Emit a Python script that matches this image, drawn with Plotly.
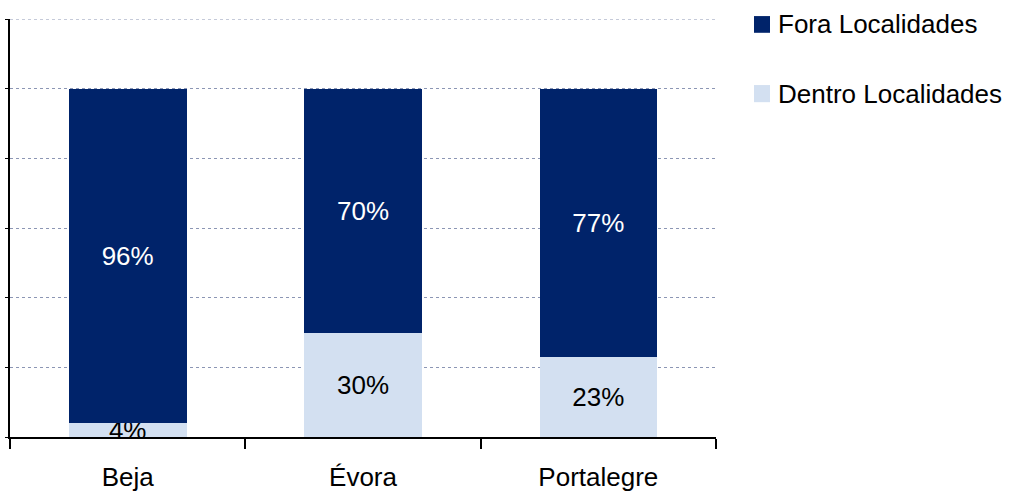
import plotly.graph_objects as go

# Share of road accidents by district, inside vs outside localities
districts = ["Beja", "Évora", "Portalegre"]
dentro = [0.04, 0.30, 0.23]
fora = [0.96, 0.70, 0.77]
series_names = ["Dentro Localidades", "Fora Localidades"]

DARK = "#00236A"
LIGHT = "#D3E0F1"
GRID = "#8C96B4"
FONT = "Liberation Sans, Arial, sans-serif"
FS = 26

fig = go.Figure()
fig.add_trace(go.Bar(
    x=districts, y=dentro, name=series_names[0],
    marker=dict(color=LIGHT, line=dict(width=0)),
    text=[f"{v:.0%}" for v in dentro], textposition="inside",
    insidetextanchor="middle", constraintext="none",
    textfont=dict(color="black", size=FS, family=FONT),
    showlegend=False,
))
fig.add_trace(go.Bar(
    x=districts, y=fora, name=series_names[1],
    marker=dict(color=DARK, line=dict(width=0)),
    text=[f"{v:.0%}" for v in fora], textposition="inside",
    insidetextanchor="middle", constraintext="none",
    textfont=dict(color="white", size=FS, family=FONT),
    showlegend=False,
))

# Top gridline at the upper end of the value axis
fig.add_shape(type="line", xref="x domain", yref="y", x0=0, x1=1, y0=1.2, y1=1.2,
              line=dict(color=GRID, width=1, dash="dot"))

# Hand-built legend to the right of the plot area
legend_items = [(series_names[1], DARK, 1.007, 0.967), (series_names[0], LIGHT, 0.842, 0.801)]
for name, color, y1, y0 in legend_items:
    fig.add_shape(type="rect", xref="paper", yref="paper",
                  x0=1.0538, x1=1.0765, y0=y0, y1=y1,
                  fillcolor=color, line=dict(width=0))
    fig.add_annotation(xref="paper", yref="paper", x=1.085, y=(y0 + y1) / 2,
                       text=name, showarrow=False, xanchor="left", yanchor="middle",
                       font=dict(size=FS, family=FONT, color="black"))

fig.update_layout(
    barmode="stack",
    bargap=0.5,
    width=1013, height=495,
    margin=dict(l=10, r=297, t=19, b=58, autoexpand=False),
    paper_bgcolor="white", plot_bgcolor="white",
    font=dict(family=FONT, size=FS, color="black"),
    uniformtext=dict(minsize=FS, mode="show"),
)
fig.update_xaxes(
    range=[-0.5, 2.5], showline=True, linecolor="black", linewidth=2,
    ticks="outside", tickson="boundaries", ticklen=10, tickwidth=2, tickcolor="black",
    ticklabelstandoff=16, automargin=False,
    showgrid=False, tickfont=dict(size=FS, family=FONT, color="black"),
)
fig.update_yaxes(
    range=[0, 1.2], dtick=0.2, showline=True, linecolor="black", linewidth=2,
    ticks="outside", ticklen=3, tickwidth=1, tickcolor="black", automargin=False,
    showticklabels=False, showgrid=True, gridcolor=GRID, griddash="dot",
    gridwidth=1, zeroline=False,
)

fig.write_html("out.html")
